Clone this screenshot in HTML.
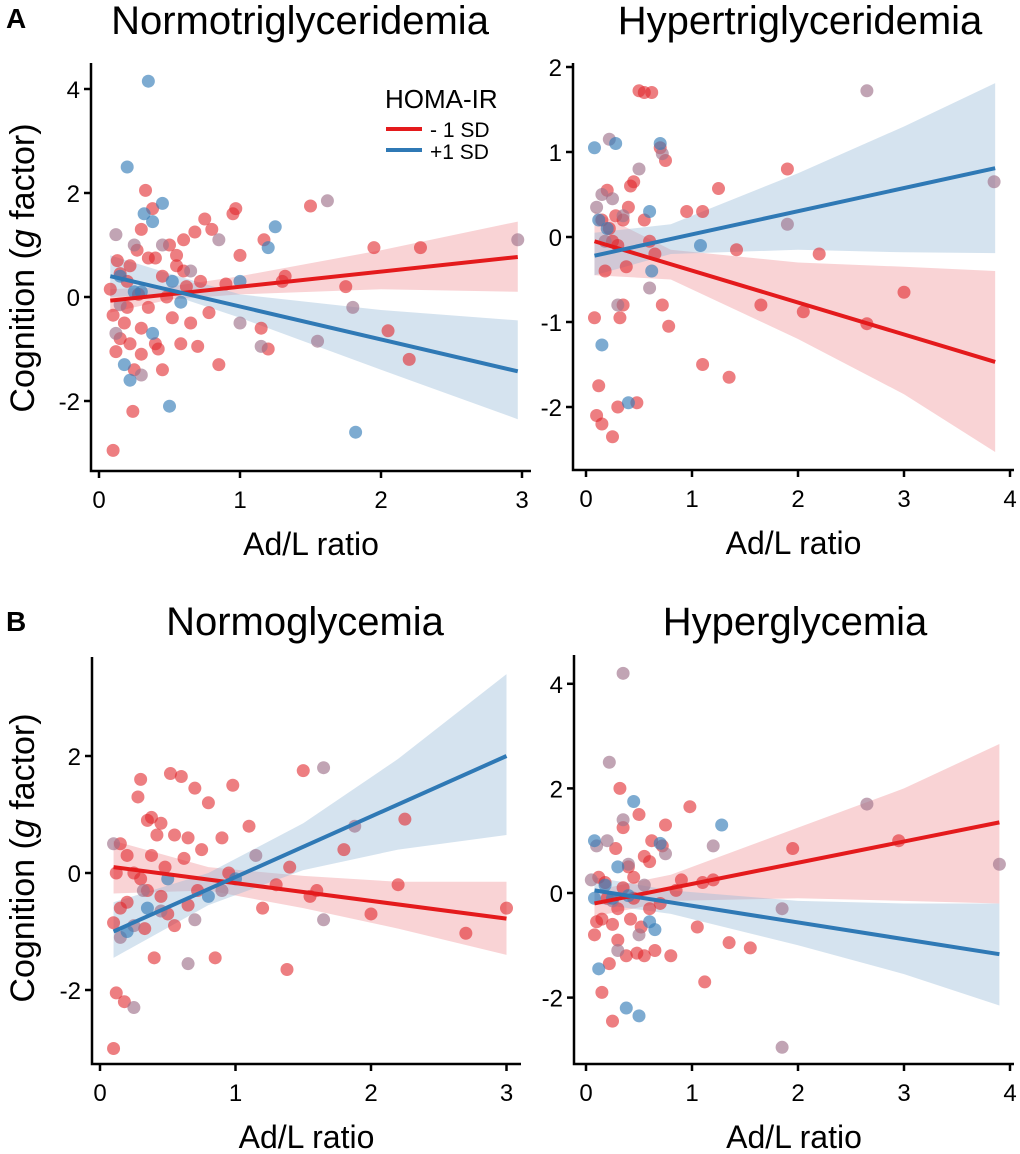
<!DOCTYPE html>
<html><head><meta charset="utf-8"><style>
html,body{margin:0;padding:0;background:#fff}
svg{display:block;font-family:"Liberation Sans","DejaVu Sans",sans-serif}
</style></head><body>
<svg id="chart" width="1020" height="1154" viewBox="0 0 1020 1154" xmlns="http://www.w3.org/2000/svg"></svg>
<script>
// ---------- data ----------
const xTicksA1=[0,1,2,3], yTicksA1=[-2,0,2,4];
const xTicksA2=[0,1,2,3,4], yTicksA2=[-2,-1,0,1,2];
const xTicksB1=[0,1,2,3], yTicksB1=[-2,0,2];
const xTicksB2=[0,1,2,3,4], yTicksB2=[-2,0,2,4];

const a1Red=[[0.08,0.15],[0.1,-0.35],[0.12,-1.05],[0.15,0.45],[0.18,-0.5],[0.2,0.3],[0.22,-0.9],[0.25,-1.4],[0.27,0.9],[0.3,1.3],[0.33,2.05],[0.35,-0.2],[0.38,1.7],[0.4,0.75],[0.42,-1.0],[0.45,0.4],[0.48,0.0],[0.5,1.0],[0.52,-0.4],[0.55,0.6],[0.58,-0.9],[0.6,1.1],[0.62,0.2],[0.65,-0.5],[0.68,1.25],[0.7,-0.95],[0.72,0.3],[0.75,1.5],[0.78,-0.3],[0.8,1.3],[0.85,-1.3],[0.9,0.25],[0.95,1.6],[0.97,1.7],[1.15,-0.6],[1.17,1.1],[1.2,-1.0],[1.3,0.3],[1.32,0.4],[1.5,1.75],[1.95,0.95],[2.05,-0.65],[2.2,-1.2],[2.28,0.95],[0.1,-2.95],[0.24,-2.2],[0.3,-1.1],[0.15,-0.8],[0.13,0.7],[0.28,0.05],[0.35,0.75],[0.22,0.6],[0.4,-0.9],[0.45,-1.4],[0.6,0.5],[0.3,-0.6],[0.55,0.8],[0.2,-0.2],[1.0,0.8],[1.75,0.2]];
const a1Blue=[[0.35,4.15],[0.2,2.5],[0.32,1.6],[0.38,1.45],[0.45,1.8],[0.22,-1.6],[0.5,-2.1],[0.52,0.3],[0.58,-0.1],[0.15,0.4],[0.25,0.1],[1.0,0.3],[1.25,1.35],[1.2,0.95],[1.82,-2.6],[0.18,-1.3],[0.38,-0.7],[0.3,0.1]];
const a1Mix=[[0.12,1.2],[0.25,1.0],[0.45,1.0],[0.85,1.1],[1.0,-0.5],[1.55,-0.85],[1.15,-0.95],[1.8,-0.2],[0.65,0.5],[0.12,-0.7],[0.3,-1.5],[0.15,-0.15],[1.62,1.85],[2.97,1.1]];

const a2Red=[[0.08,-0.95],[0.1,-2.1],[0.12,-1.75],[0.15,-2.2],[0.18,-0.4],[0.2,0.55],[0.22,0.1],[0.25,-2.35],[0.28,0.25],[0.3,-2.0],[0.32,-0.95],[0.35,0.2],[0.38,-0.35],[0.42,0.6],[0.45,0.65],[0.48,-1.95],[0.5,1.72],[0.55,1.7],[0.6,-0.05],[0.62,1.7],[0.7,1.05],[0.72,-0.8],[0.75,0.9],[0.78,-1.05],[0.95,0.3],[1.1,-1.5],[1.1,0.3],[1.25,0.57],[1.35,-1.65],[1.42,-0.15],[1.65,-0.8],[1.9,0.8],[2.05,-0.88],[2.2,-0.2],[2.65,-1.02],[3.0,-0.65],[0.15,0.2],[0.25,-0.05],[0.35,-0.8],[0.55,0.2],[0.65,-0.2],[0.4,0.35],[0.3,-0.1]];
const a2Blue=[[0.08,1.05],[0.28,1.1],[0.12,0.2],[0.15,-1.27],[0.4,-1.95],[0.6,0.3],[0.62,-0.4],[0.7,1.1],[1.08,-0.1],[0.2,0.1]];
const a2Mix=[[0.18,-0.05],[0.22,1.15],[0.5,0.8],[0.6,-0.6],[0.72,0.98],[1.9,0.15],[2.65,1.72],[3.85,0.65],[0.1,0.35],[0.3,-0.8],[0.25,0.45],[0.15,0.5],[0.35,0.25]];

const b1Red=[[0.1,-3.0],[0.1,-0.85],[0.12,-2.05],[0.15,0.5],[0.18,-2.2],[0.2,-0.5],[0.28,1.3],[0.3,1.6],[0.33,-0.95],[0.35,0.9],[0.38,0.3],[0.4,-1.45],[0.42,0.65],[0.45,0.85],[0.48,0.1],[0.5,-0.7],[0.52,1.7],[0.55,0.65],[0.6,1.65],[0.62,0.25],[0.65,-0.55],[0.7,1.45],[0.72,-0.3],[0.75,0.4],[0.8,1.2],[0.85,-1.45],[0.9,0.6],[0.95,0.0],[0.98,1.5],[1.1,0.8],[1.2,-0.6],[1.3,-0.2],[1.38,-1.65],[1.4,0.1],[1.5,1.75],[1.6,-0.3],[1.8,0.4],[2.2,-0.2],[2.25,0.92],[2.7,-1.03],[3.0,-0.6],[2.0,-0.7],[0.2,0.3],[0.3,-0.1],[0.15,-0.6],[0.25,0.0],[0.35,-0.3],[0.45,-0.4],[0.55,-0.9],[0.65,0.6],[0.38,0.95],[0.12,0.0],[1.55,-0.4]];
const b1Blue=[[0.35,-0.6],[0.5,-0.1],[0.8,-0.4],[1.0,-0.1],[0.2,-1.0]];
const b1Mix=[[0.1,0.5],[0.25,-0.9],[0.32,-0.3],[0.45,-0.65],[0.65,-1.55],[0.9,-0.3],[1.15,0.3],[1.65,1.8],[1.65,-0.8],[1.88,0.8],[0.7,-0.8],[0.15,-1.1],[0.25,-2.3]];

const b2Red=[[0.08,-0.8],[0.1,-0.55],[0.12,0.3],[0.15,-1.9],[0.18,0.2],[0.22,-1.35],[0.25,-2.45],[0.28,0.85],[0.3,-0.3],[0.32,2.0],[0.35,1.25],[0.38,-1.2],[0.4,0.5],[0.42,-0.5],[0.45,0.3],[0.48,-1.15],[0.5,1.5],[0.52,-0.65],[0.55,-1.2],[0.6,0.6],[0.62,1.0],[0.65,-1.1],[0.7,-0.2],[0.72,0.9],[0.75,1.3],[0.8,-1.2],[0.85,0.05],[0.9,0.25],[0.98,1.65],[1.05,-0.65],[1.1,0.2],[1.12,-1.7],[1.2,0.25],[1.35,-0.95],[1.55,-1.05],[1.95,0.85],[2.95,1.0],[0.2,-0.1],[0.3,-0.9],[0.35,0.1],[0.45,-0.1],[0.55,0.7],[0.15,-0.5],[0.25,-0.6],[0.6,-0.3]];
const b2Blue=[[0.08,-0.1],[0.12,-1.45],[0.18,0.15],[0.25,-0.1],[0.38,-2.2],[0.45,1.75],[0.5,-2.35],[0.6,-0.55],[0.65,-0.7],[0.7,0.95],[1.28,1.3],[0.3,0.5],[0.4,-0.05],[0.08,1.0]];
const b2Mix=[[0.35,4.2],[0.22,2.5],[0.2,1.0],[0.25,-0.15],[0.05,0.25],[0.4,0.55],[0.55,0.15],[0.75,0.75],[1.2,0.9],[1.85,-0.3],[1.85,-2.95],[2.65,1.7],[3.9,0.55],[0.1,0.9],[0.3,-1.1],[0.5,-0.8],[0.35,1.4]];

// fitted lines [x0,y0,x1,y1]
const a1RedLine=[0.08,-0.07,2.97,0.77], a1BlueLine=[0.08,0.4,2.97,-1.43];
const a2RedLine=[0.08,-0.05,3.86,-1.47], a2BlueLine=[0.08,-0.22,3.86,0.81];
const b1RedLine=[0.1,0.1,3.0,-0.78], b1BlueLine=[0.1,-1.0,3.0,2.0];
const b2RedLine=[0.08,-0.2,3.9,1.35], b2BlueLine=[0.08,0.05,3.9,-1.17];
// confidence bands
const a1BandX=[0.08,0.5,1,2,2.97];
const a1RedLo=[-0.3,-0.05,0.05,0.15,0.1], a1RedHi=[0.15,0.2,0.4,0.9,1.45];
const a1BlueLo=[0.0,0.05,-0.4,-1.4,-2.35], a1BlueHi=[0.8,0.45,0.05,-0.25,-0.45];
const a2BandX=[0.08,0.8,2,3,3.86];
const a2RedLo=[-0.45,-0.5,-1.2,-1.85,-2.53], a2RedHi=[0.3,-0.15,-0.3,-0.35,-0.4];
const a2BlueLo=[-0.45,-0.2,-0.15,-0.18,-0.19], a2BlueHi=[0.05,0.15,0.75,1.3,1.81];
const b1BandX=[0.1,0.8,1.5,2.2,3.0];
const b1RedLo=[-0.35,-0.3,-0.6,-0.95,-1.4], b1RedHi=[0.55,0.1,-0.05,-0.15,-0.15];
const b1BlueLo=[-1.45,-0.55,0.05,0.4,0.65], b1BlueHi=[-0.5,0.0,0.85,1.95,3.4];
const b2BandX=[0.08,0.8,2,3,3.9];
const b2RedLo=[-0.45,-0.15,-0.1,-0.15,-0.2], b2RedHi=[0.05,0.35,1.25,2.0,2.85];
const b2BlueLo=[-0.2,-0.4,-1.0,-1.55,-2.15], b2BlueHi=[0.3,0.05,-0.15,-0.2,-0.2];

// ---------- drawing ----------
const svg=document.getElementById('chart');
const NS='http://www.w3.org/2000/svg';
function mk(tag,attrs,parent){const e=document.createElementNS(NS,tag);for(const k in attrs)e.setAttribute(k,attrs[k]);(parent||svg).appendChild(e);return e;}
const RED='#e41a1c', BLUE='#2f79b5';

function panel(id,P,xt,yt,red,blue,mix,rl,bl,bx,rlo,rhi,blo,bhi){
  const g=mk('g',{});
  
  
  const X=v=>P.x0+v*P.xs, Y=v=>P.y0-v*P.ys;
  function band(lo,hi,fill,nm){
    let pts=bx.map((x,i)=>X(x)+','+Y(hi[i]));
    pts=pts.concat(bx.map((x,i)=>X(x)+','+Y(lo[i])).reverse());
    const p=mk('polygon',{points:pts.join(' '),fill:fill},g);
    
    
  }
  band(rlo,rhi,'rgba(240,150,155,0.42)','red-ci-band');
  band(blo,bhi,'rgba(150,185,215,0.4)','blue-ci-band');
  function dots(arr,fill,nm){arr.forEach(d=>{
    const c=mk('circle',{cx:X(d[0]),cy:Y(d[1]),r:6.5,fill:fill},g);
    
    
  });}
  dots(red,'rgba(225,40,45,0.6)','red-point');
  dots(mix,'rgba(160,115,140,0.65)','overlap-point');
  dots(blue,'rgba(55,126,184,0.65)','blue-point');
  const l1=mk('line',{x1:X(rl[0]),y1:Y(rl[1]),x2:X(rl[2]),y2:Y(rl[3]),stroke:RED,'stroke-width':4},g);
  
  
  const l2=mk('line',{x1:X(bl[0]),y1:Y(bl[1]),x2:X(bl[2]),y2:Y(bl[3]),stroke:BLUE,'stroke-width':4},g);
  
  
  const ax=mk('path',{d:`M${P.ax},${P.top} V${P.bottom} H${P.right}`,fill:'none',stroke:'#000','stroke-width':2.5},g);
  
  
  xt.forEach(t=>{
    mk('line',{x1:X(t),x2:X(t),y1:P.bottom,y2:P.bottom+7,stroke:'#000','stroke-width':2.5},g);
    const tx=mk('text',{x:X(t),y:P.bottom+37,'font-size':24,'text-anchor':'middle'},g);
    tx.textContent=t;
    
    
  });
  yt.forEach(t=>{
    mk('line',{x1:P.ax-7,x2:P.ax,y1:Y(t),y2:Y(t),stroke:'#000','stroke-width':2.5},g);
    const tx=mk('text',{x:P.ax-11,y:Y(t)+9,'font-size':24,'text-anchor':'end'},g);
    tx.textContent=t;
    
    
  });
  const xl=mk('text',{x:(P.ax+P.right)/2,y:P.bottom+84,'font-size':32,'text-anchor':'middle'},g);
  xl.textContent='Ad/L ratio';
  
  
  const tt=mk('text',{x:P.tx,y:P.ty,'font-size':40,'text-anchor':'middle'},g);
  tt.textContent=P.title;
  
  
}

panel('normotriglyceridemia',{x0:99,xs:141,y0:297,ys:52,ax:91,top:63,bottom:471,right:531,tx:300,ty:34,title:'Normotriglyceridemia'},xTicksA1,yTicksA1,a1Red,a1Blue,a1Mix,a1RedLine,a1BlueLine,a1BandX,a1RedLo,a1RedHi,a1BlueLo,a1BlueHi);
panel('hypertriglyceridemia',{x0:586,xs:106,y0:237,ys:85,ax:573,top:63,bottom:470,right:1014,tx:800,ty:34,title:'Hypertriglyceridemia'},xTicksA2,yTicksA2,a2Red,a2Blue,a2Mix,a2RedLine,a2BlueLine,a2BandX,a2RedLo,a2RedHi,a2BlueLo,a2BlueHi);
panel('normoglycemia',{x0:100,xs:135.5,y0:873,ys:58.5,ax:92,top:657,bottom:1064,right:521,tx:305,ty:635,title:'Normoglycemia'},xTicksB1,yTicksB1,b1Red,b1Blue,b1Mix,b1RedLine,b1BlueLine,b1BandX,b1RedLo,b1RedHi,b1BlueLo,b1BlueHi);
panel('hyperglycemia',{x0:586,xs:106,y0:893,ys:52.3,ax:574,top:655,bottom:1064,right:1014,tx:795,ty:635,title:'Hyperglycemia'},xTicksB2,yTicksB2,b2Red,b2Blue,b2Mix,b2RedLine,b2BlueLine,b2BandX,b2RedLo,b2RedHi,b2BlueLo,b2BlueHi);
</script>
<div style="position:absolute;left:0;top:0;width:1020px;height:1154px;pointer-events:none">
<svg width="1020" height="1154" style="font-family:'Liberation Sans',sans-serif">
  <text x="6" y="28" font-size="28" font-weight="bold">A</text>
  <text x="6" y="631" font-size="28" font-weight="bold">B</text>
  <text transform="translate(34,268) rotate(-90)" font-size="34" text-anchor="middle">Cognition (<tspan font-style="italic">g</tspan> factor)</text>
  <text transform="translate(34,858) rotate(-90)" font-size="34" text-anchor="middle">Cognition (<tspan font-style="italic">g</tspan> factor)</text>
  <g>
    <text x="385" y="108" font-size="26">HOMA-IR</text>
    <line x1="386" x2="422" y1="129" y2="129" stroke="#e41a1c" stroke-width="4"/>
    <text x="430" y="137" font-size="21">- 1 SD</text>
    <line x1="386" x2="422" y1="150" y2="150" stroke="#2f79b5" stroke-width="4"/>
    <text x="430" y="159" font-size="21">+1 SD</text>
  </g>
</svg>
</div>
</body></html>
